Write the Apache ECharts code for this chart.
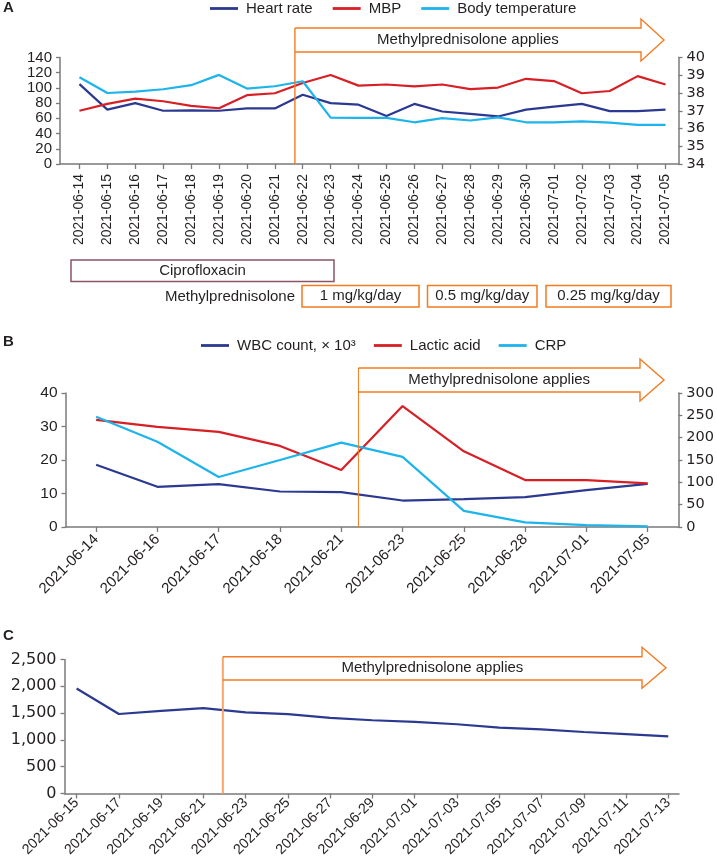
<!DOCTYPE html>
<html><head><meta charset="utf-8">
<script src="https://cdn.jsdelivr.net/npm/echarts@6/dist/echarts.min.js"></script>
<style>html,body{margin:0;padding:0;background:#fff}#c{width:717px;height:866px}</style>
</head><body><div id="c"></div>
<script>
// ---- Panel A data ----
const datesA = ['2021-06-14','2021-06-15','2021-06-16','2021-06-17','2021-06-18','2021-06-19','2021-06-20','2021-06-21','2021-06-22','2021-06-23','2021-06-24','2021-06-25','2021-06-26','2021-06-27','2021-06-28','2021-06-29','2021-06-30','2021-07-01','2021-07-02','2021-07-03','2021-07-04','2021-07-05'];
const heartRate = [105, 71.5, 80, 70, 70.5, 70, 73, 73, 91, 80, 78, 63, 79, 69, 66, 62.5, 71.5, 75.5, 79, 69.5, 69.5, 71.5];
const mbp = [70, 79, 86, 82.5, 76.5, 73.3, 90.5, 93, 106.5, 117, 103, 104.5, 102, 104.5, 98.5, 100.5, 112, 109, 93, 96, 115.5, 104.5];
const bodyTemp = [38.89, 38.0, 38.08, 38.21, 38.44, 39.02, 38.25, 38.38, 38.66, 36.61, 36.6, 36.6, 36.35, 36.58, 36.45, 36.63, 36.35, 36.35, 36.4, 36.33, 36.2, 36.2];
// ---- Panel B data ----
const datesB = ['2021-06-14','2021-06-16','2021-06-17','2021-06-18','2021-06-21','2021-06-23','2021-06-25','2021-06-28','2021-07-01','2021-07-05'];
const wbc = [18.6, 12.0, 12.8, 10.6, 10.4, 7.9, 8.3, 8.9, 11.0, 12.9];
const lactic = [32.0, 29.9, 28.4, 24.2, 17.0, 36.1, 22.6, 14.0, 14.0, 13.0];
const crp = [247, 191, 112, 150, 189, 157, 36, 10.5, 4, 1.5];
// ---- Panel C data ----
const datesC = ['2021-06-15','2021-06-17','2021-06-19','2021-06-21','2021-06-23','2021-06-25','2021-06-27','2021-06-29','2021-07-01','2021-07-03','2021-07-05','2021-07-07','2021-07-09','2021-07-11','2021-07-13'];
const valuesC = [1960, 1483, 1540, 1592, 1515, 1480, 1411, 1367, 1336, 1292, 1229, 1197, 1147, 1109, 1065];

const navy = '#2b3990', red = '#d71f26', cyan = '#1cb4ea', orange = '#f37b21';
const axisGray = '#7a7a7a', txt = '#231f20';
const LS = 'Liberation Sans', DJ = 'DejaVu Sans';

const chart = echarts.init(document.getElementById('c'), null, {renderer: 'canvas'});
const axLine = {show: true, lineStyle: {color: axisGray, width: 1.5}};
const axTick = {show: true, length: 4, lineStyle: {color: axisGray, width: 1.3}};

function frameX(grid) {
  return {type: 'category', gridIndex: grid, data: ['x'], axisLine: axLine, axisTick: {show: false}, axisLabel: {show: false}, splitLine: {show: false}};
}
function dateX(grid, data, rot, fs, margin, gap) {
  return {type: 'category', gridIndex: grid, data: data, boundaryGap: gap,
    axisLine: {show: false}, axisTick: {show: true, alignWithLabel: true, length: 5, lineStyle: {color: axisGray, width: 1.3}},
    axisLabel: {rotate: rot, interval: 0, fontSize: fs, fontFamily: LS, color: txt, margin: margin}, splitLine: {show: false}};
}
function valY(grid, min, max, interval, pos, show, fs, fam, fmt) {
  return {type: 'value', gridIndex: grid, min: min, max: max, interval: interval, position: pos, show: show,
    axisLine: axLine, axisTick: axTick, splitLine: {show: false},
    axisLabel: {fontSize: fs, fontFamily: fam, color: txt, margin: 8, formatter: fmt}};
}
const line = (name, x, y, data, color) => ({name: name, type: 'line', xAxisIndex: x, yAxisIndex: y, data: data,
  symbol: 'none', lineStyle: {color: color, width: 2.2}, itemStyle: {color: color}, z: 3});

const option = {
  animation: false,
  textStyle: {fontFamily: LS},
  grid: [
    {left: 60, top: 57.5, width: 618.5, height: 106.5},
    {left: 65.5, top: 57.5, width: 614, height: 106.5},
    {left: 65.5, top: 393, width: 613.5, height: 134},
    {left: 64.5, top: 659.5, width: 614.5, height: 134},
    {left: 76.6, top: 659.5, width: 591.7, height: 134}
  ],
  xAxis: [
    frameX(0),
    dateX(1, datesA, 90, 13.9, 10, true),
    Object.assign(dateX(2, datesB, 45, 15, 10, true), {axisLine: axLine}),
    frameX(3),
    dateX(4, datesC, 45, 14.3, 7, false)
  ],
  yAxis: [
    valY(0, 0, 140, 20, 'left', true, 15, LS),
    valY(0, 34, 40, 1, 'right', true, 14.5, DJ),
    valY(1, 0, 140, 20, 'left', false, 15, LS),
    valY(1, 34, 40, 1, 'right', false, 14.5, DJ),
    valY(2, 0, 40, 10, 'left', true, 15.5, LS),
    valY(2, 0, 300, 50, 'right', true, 14.5, DJ),
    valY(3, 0, 2500, 500, 'left', true, 16, DJ, v => v.toLocaleString('en-US')),
    valY(4, 0, 2500, 500, 'left', false, 16, DJ)
  ],
  legend: [
    {data: ['Heart rate', 'MBP', 'Body temperature'], left: 205, top: -4, icon: 'rect', itemWidth: 28, itemHeight: 2.8, itemGap: 20,
     textStyle: {fontSize: 15, color: txt, fontFamily: LS, padding: [0, 0, 0, 3]}},
    {data: ['WBC count, × 10³', 'Lactic acid', 'CRP'], left: 196, top: 333, icon: 'rect', itemWidth: 28, itemHeight: 2.8, itemGap: 18,
     textStyle: {fontSize: 15, color: txt, fontFamily: LS, padding: [0, 0, 0, 3]}}
  ],
  series: [
    line('Heart rate', 1, 2, heartRate, navy),
    line('MBP', 1, 2, mbp, red),
    line('Body temperature', 1, 3, bodyTemp, cyan),
    line('WBC count, × 10³', 2, 4, wbc, navy),
    line('Lactic acid', 2, 4, lactic, red),
    line('CRP', 2, 5, crp, cyan),
    line('Cumulative', 4, 7, valuesC, navy)
  ]
};
chart.setOption(option);

// annotation positions tied to the date axes
function xAt(axisIndex, idx) {
  const a = Math.floor(idx), b = Math.ceil(idx);
  const pa = chart.convertToPixel({xAxisIndex: axisIndex}, a);
  const pb = chart.convertToPixel({xAxisIndex: axisIndex}, b);
  return pa + (pb - pa) * (idx - a);
}
function yAt(axisIndex, v) { return chart.convertToPixel({yAxisIndex: axisIndex}, v); }

function arrow(x0, top, bot, hTop, hBot, xb, tip, axisY, vColor, vWidth) {
  const mid = (hTop + hBot) / 2;
  return [
    {type: 'line', shape: {x1: x0, y1: top, x2: x0, y2: axisY}, style: {stroke: vColor, lineWidth: vWidth}, z: 5},
    {type: 'polyline', shape: {points: [[x0, top], [xb, top], [xb, hTop], [tip, mid], [xb, hBot], [xb, bot], [x0, bot]]},
     style: {stroke: orange, lineWidth: 1.4, fill: null}, z: 5},
    {type: 'text', x: (x0 + xb) / 2, y: mid, style: {text: 'Methylprednisolone applies', fontSize: 15, fontFamily: LS, fill: txt, align: 'center', verticalAlign: 'middle'}, z: 5}
  ];
}
function box(x1, y1, x2, y2, stroke, label) {
  return [
    {type: 'rect', shape: {x: x1, y: y1, width: x2 - x1, height: y2 - y1}, style: {stroke: stroke, lineWidth: 1.5, fill: null}},
    {type: 'text', x: (x1 + x2) / 2, y: (y1 + y2) / 2, style: {text: label, fontSize: 15, fontFamily: LS, fill: txt, align: 'center', verticalAlign: 'middle'}}
  ];
}
const letter = (t, x, y) => ({type: 'text', x: x, y: y, style: {text: t, fontSize: 15, fontWeight: 'bold', fontFamily: LS, fill: txt, verticalAlign: 'middle'}});

let g = [];
g = g.concat(arrow(xAt(1, 7.72), 28, 52, 19, 61, 641, 664, yAt(2, 0), orange, 1.4));
g = g.concat(arrow(xAt(2, 4.28), 368, 392, 359, 401, 640, 664, yAt(4, 0), orange, 1));
g = g.concat(arrow(xAt(4, 3.46), 656.7, 680, 647.3, 688.3, 642, 666, yAt(7, 0), '#f6a66a', 2));
g = g.concat(box(71, 260, 334, 281.5, '#8b5566', 'Ciprofloxacin'));
g.push({type: 'text', x: 295, y: 297, style: {text: 'Methylprednisolone', fontSize: 15, fontFamily: LS, fill: txt, align: 'right', verticalAlign: 'middle'}});
g = g.concat(box(302, 285.5, 419, 307, orange, '1 mg/kg/day'));
g = g.concat(box(427.5, 285.5, 537, 307, orange, '0.5 mg/kg/day'));
g = g.concat(box(546, 285.5, 671, 307, orange, '0.25 mg/kg/day'));
g.push(letter('A', 3, 8), letter('B', 3, 342), letter('C', 3, 636));
chart.setOption({graphic: g});
</script></body></html>
